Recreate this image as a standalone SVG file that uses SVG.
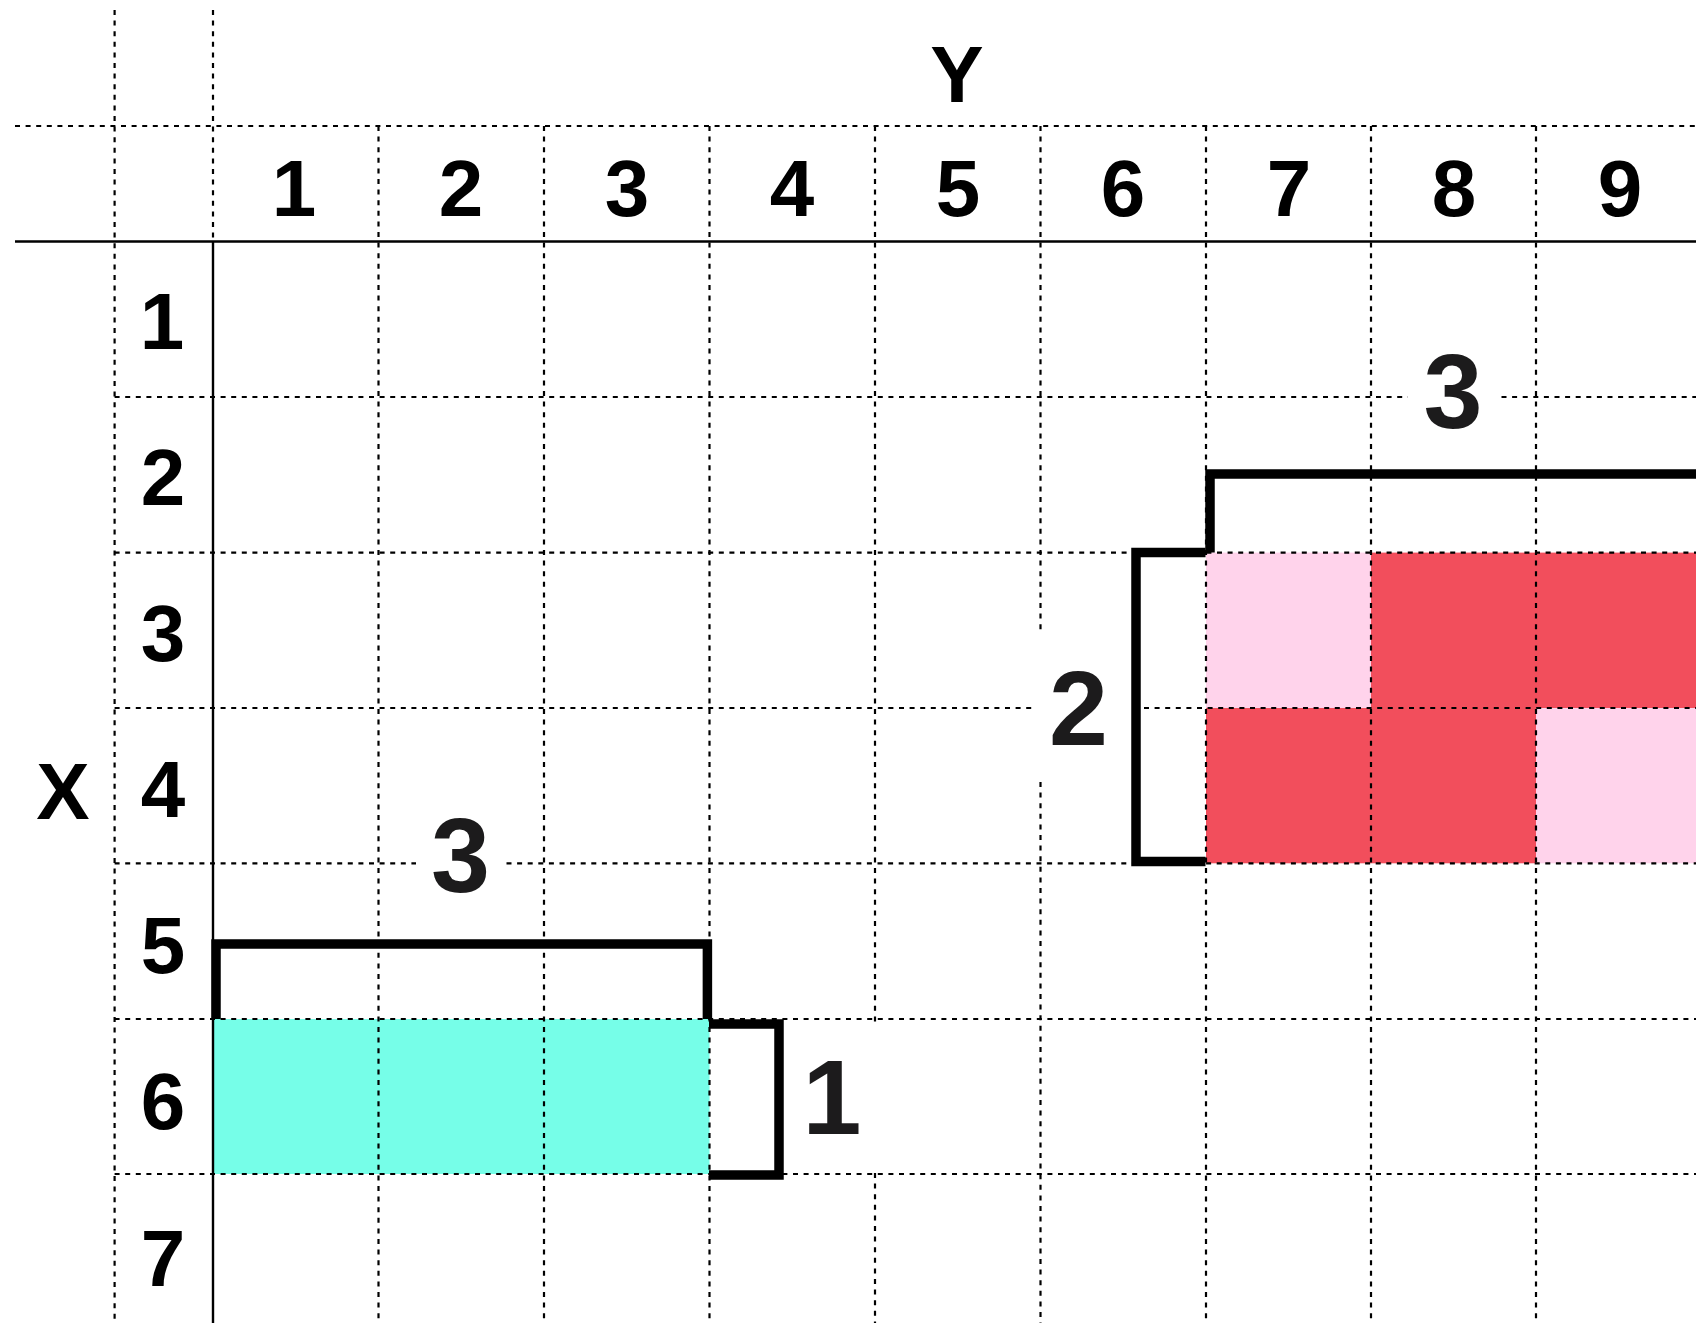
<svg xmlns="http://www.w3.org/2000/svg" width="1696" height="1323" viewBox="0 0 1696 1323">
  <style>
    .grid { stroke: #000; stroke-width: 2.2; stroke-dasharray: 5 5.6; fill: none; }
    .axis { stroke: #000; stroke-width: 2.4; fill: none; }
    .bracket { stroke: #000; stroke-width: 9.5; fill: none; stroke-linejoin: miter; }
    .hdr { font-family: "Liberation Sans", Arial, sans-serif; font-weight: bold; font-size: 80px; fill: #000; text-anchor: middle; }
    .big { font-family: "Liberation Sans", Arial, sans-serif; font-weight: bold; font-size: 106px; fill: #1c1b1c; text-anchor: middle; }
  </style>
  <rect width="1696" height="1323" fill="#fff"/>

  <!-- cell fills -->
  <g id="cells">
    <rect x="213" y="1019" width="496.5" height="155" fill="#76FEE8"/>
    <rect x="1206" y="552.6" width="165" height="155.4" fill="#FFD3EB"/>
    <rect x="1371" y="552.6" width="325" height="155.4" fill="#F24E5C"/>
    <rect x="1206" y="708" width="330" height="155.3" fill="#F24E5C"/>
    <rect x="1536" y="708" width="160" height="155.3" fill="#FFD3EB"/>
  </g>

  <!-- grid -->
  <g id="grid">
    <path class="grid" d="M114.6,10 V1323 M213,10 V241.5 M15,126 H1696"/>
    <path class="grid" d="M378.5,126 V1323 M544,126 V1323 M709.5,126 V1323 M875,126 V1025 M875,1173 V1323 M1040.5,126 V633 M1040.5,782 V1323 M1206,126 V1323 M1371,126 V1323 M1536,126 V1323"/>
    <path class="grid" d="M114.6,397 H1408 M1501.5,397 H1696 M114.6,552.6 H1696 M114.6,708 H1035 M1144,708 H1696 M114.6,863.3 H416 M506.5,863.3 H1696 M114.6,1019 H1696 M114.6,1174 H1696"/>
    <path class="axis" d="M15,241.5 H1696 M213,241.5 V1323"/>
  </g>

  <!-- axis labels -->
  <g id="labels">
    <text class="hdr" x="957" y="102">Y</text>
    <text class="hdr" x="63" y="819">X</text>
    <text class="hdr" x="294" y="216">1</text>
    <text class="hdr" x="461" y="216">2</text>
    <text class="hdr" x="627" y="216">3</text>
    <text class="hdr" x="792" y="216">4</text>
    <text class="hdr" x="958" y="216">5</text>
    <text class="hdr" x="1123" y="216">6</text>
    <text class="hdr" x="1289" y="216">7</text>
    <text class="hdr" x="1454" y="216">8</text>
    <text class="hdr" x="1620" y="216">9</text>
    <text class="hdr" x="162" y="349">1</text>
    <text class="hdr" x="163" y="505">2</text>
    <text class="hdr" x="163" y="661">3</text>
    <text class="hdr" x="163" y="817">4</text>
    <text class="hdr" x="163" y="973">5</text>
    <text class="hdr" x="163" y="1129">6</text>
    <text class="hdr" x="163" y="1286">7</text>
  </g>

  <!-- span brackets -->
  <g id="bracket-cyan-width">
    <path class="bracket" d="M216,1019 V944 H707.4 V1019"/>
    <text class="big" x="460.5" y="892">3</text>
  </g>
  <g id="bracket-cyan-height">
    <path class="bracket" d="M709,1024 H779 V1175 H709"/>
    <text class="big" x="832" y="1134">1</text>
  </g>
  <g id="bracket-red-width">
    <path class="bracket" d="M1210,552.6 V474 H1700"/>
    <text class="big" x="1453" y="428">3</text>
  </g>
  <g id="bracket-red-height">
    <path class="bracket" d="M1205.5,552.6 H1136 V861.5 H1205.5"/>
    <text class="big" x="1078.5" y="744.5">2</text>
  </g>
</svg>
